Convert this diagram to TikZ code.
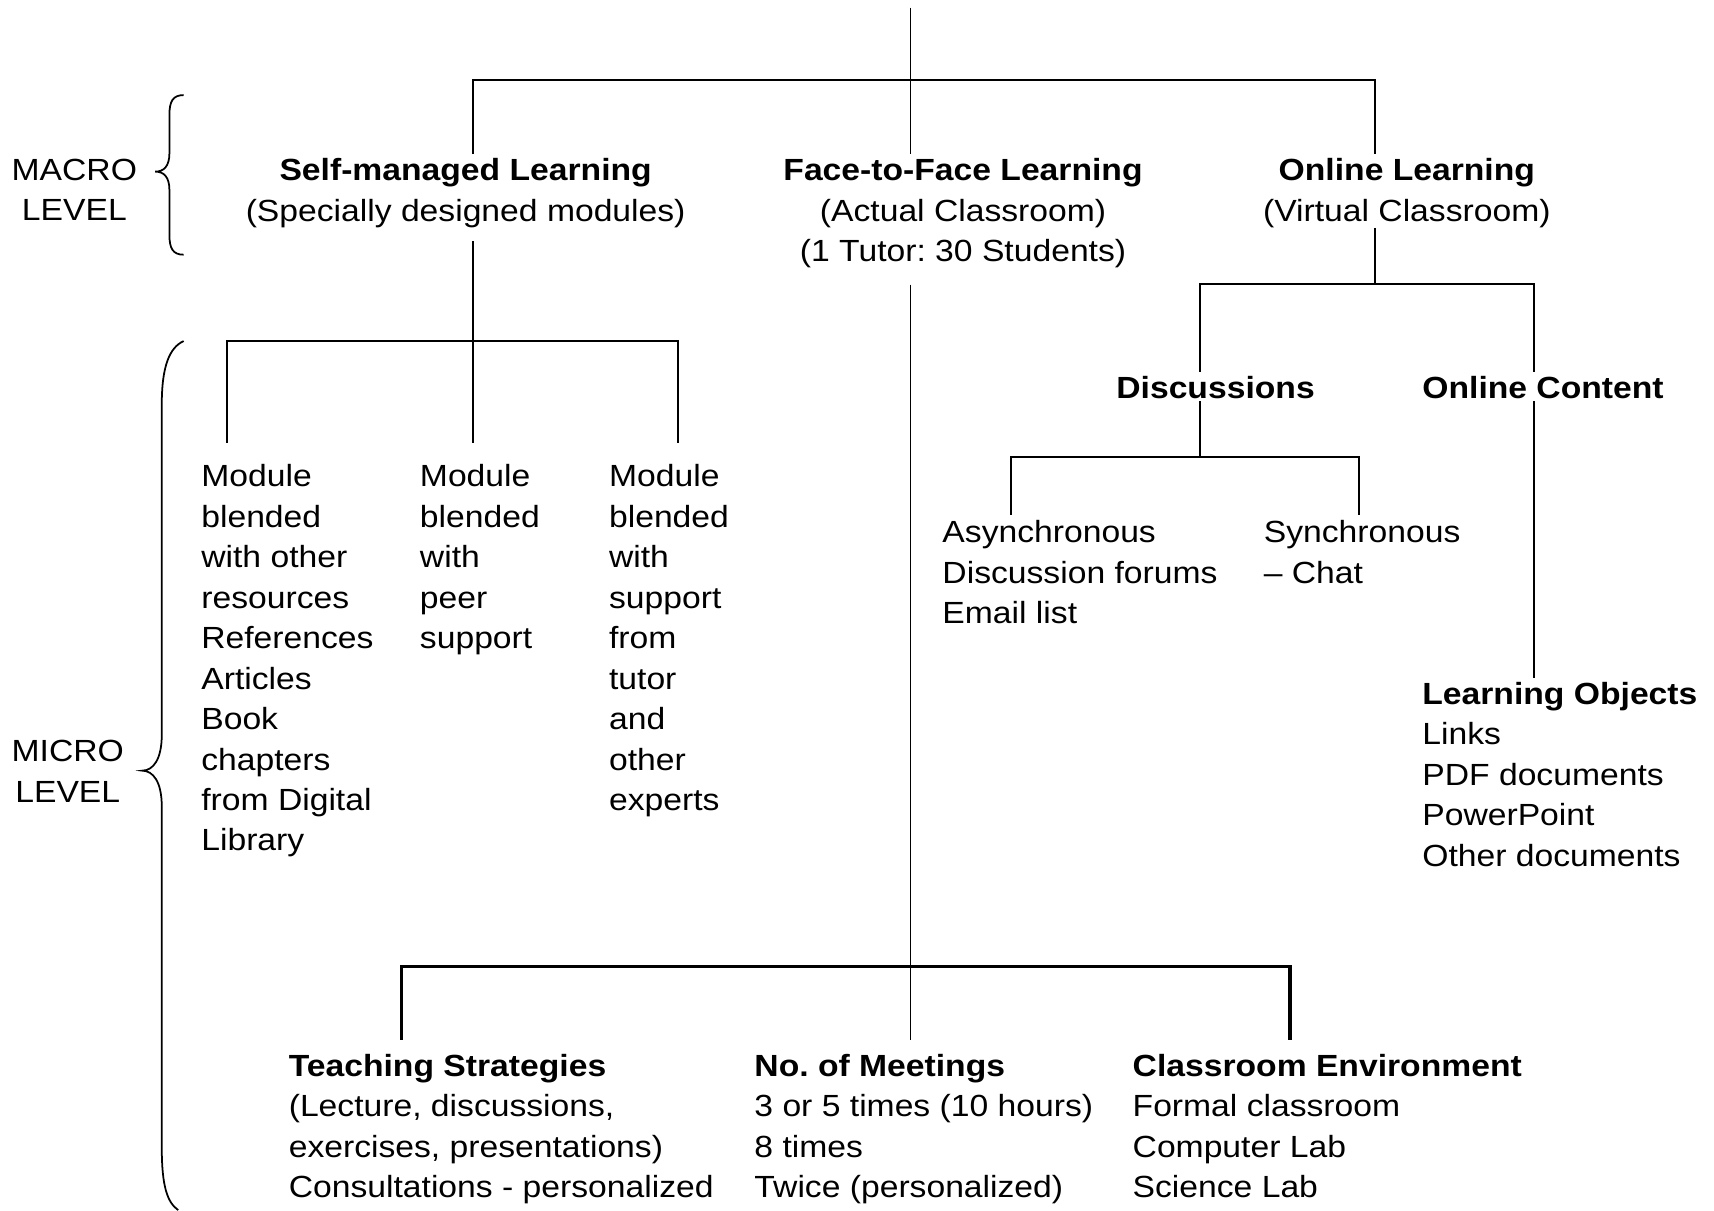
\documentclass[tikz,border=0pt]{standalone}
\usepackage{fontspec}
\setmainfont{Liberation Sans}[FakeStretch=1.1]

\tikzset{
  txt/.style={inner sep=0pt, align=left, anchor=north west, font=\fontsize{28}{37}\selectfont},
  ctr/.style={txt, align=center, anchor=north},
  link/.style={line width=1.6pt},
  fat/.style={line width=3pt}
}

\begin{document}
\frenchspacing
\begin{tikzpicture}[x=1pt,y=-1pt]
\useasboundingbox (0,0) rectangle (1568,1107);

% levels and braces
\node[ctr] (macro) at (68,145) {MACRO\\LEVEL};
\node[ctr] (micro) at (62,677) {MICRO\\LEVEL};
\draw[link] (168,87) .. controls (158,87) and (155,93) .. (155,105) -- (155,140)
  .. controls (155,152) and (150,157) .. (142,157)
  .. controls (150,157) and (155,162) .. (155,174) -- (155,215)
  .. controls (155,227) and (158,233) .. (168,233);
\draw[link] (168,312) .. controls (155,318) and (148,335) .. (148,370) -- (148,672)
  .. controls (148,695) and (140,705) .. (130,705)
  .. controls (140,705) and (148,715) .. (148,738) -- (148,1050)
  .. controls (148,1085) and (153,1100) .. (163,1107);

% macro level
\node[ctr] (selfml) at (426,145) {\textbf{Self-managed Learning}\\(Specially designed modules)};
\node[ctr] (ftf) at (881,145) {\textbf{Face-to-Face Learning}\\(Actual Classroom)\\(1 Tutor: 30 Students)};
\node[ctr] (online) at (1287,145) {\textbf{Online Learning}\\(Virtual Classroom)};

% micro level
\node[txt] (mod1) at (184,425) {Module\\blended\\with other\\resources\\References\\Articles\\Book\\chapters\\from Digital\\Library};
\node[txt] (mod2) at (384,425) {Module\\blended\\with\\peer\\support};
\node[txt] (mod3) at (557,425) {Module\\blended\\with\\support\\from\\tutor\\and\\other\\experts};
\node[ctr] (disc) at (1112,344) {\textbf{Discussions}};
\node[txt] (content) at (1301,344) {\textbf{Online Content}};
\node[txt] (async) at (862,476) {Asynchronous\\Discussion forums\\Email list};
\node[txt] (sync) at (1156,476) {Synchronous\\-- Chat};
\node[txt] (lobj) at (1301,624) {\textbf{Learning Objects}\\Links\\PDF documents\\PowerPoint\\Other documents};
\node[txt] (teach) at (264,964) {\textbf{Teaching Strategies}\\(Lecture, discussions,\\exercises, presentations)\\Consultations - personalized};
\node[txt] (meet) at (690,964) {\textbf{No. of Meetings}\\3 or 5 times (10 hours)\\8 times\\Twice (personalized)};
\node[txt] (env) at (1036,964) {\textbf{Classroom Environment}\\Formal classroom\\Computer Lab\\Science Lab};

% joints
\foreach \n/\x/\y in {top/833/7, b1/833/73, b2/433/312, b3/1258/260, b4/1098/418,
                      b5/833/884, c1/1403/260, m1/208/312, m3/620/312,
                      d1/925/418, d2/1243/418, f1/367/884, f3/1180/884}
    \coordinate (\n) at (\x,\y);

% connectors
\draw[link, shorten >=4pt] (top) -- (top |- ftf.north);
\draw[link, shorten <=4pt, shorten >=4pt] (b2 |- selfml.north) |- (b1) -| (b3 |- online.north);
\draw[link, shorten <=12pt] (b2 |- selfml.south) -- (b2);
\draw[link, shorten <=20pt, shorten >=20pt] (m1 |- mod1.north) |- (b2) -| (m3 |- mod3.north);
\draw[link, shorten >=20pt] (b2) -- (b2 |- mod2.north);
\draw[link] (b3 |- online.south) -- (b3);
\draw[link, shorten <=4pt, shorten >=4pt] (b4 |- disc.north) |- (b3) -| (c1 |- content.north);
\draw[link, shorten <=2pt, shorten >=4pt] (c1 |- content.south) -- (c1 |- lobj.north);
\draw[link, shorten <=2pt] (b4 |- disc.south) -- (b4);
\draw[link, shorten <=5pt, shorten >=5pt] (d1 |- async.north) |- (b4) -| (d2 |- sync.north);
\draw[link, shorten <=15pt, shorten >=13pt] (b5 |- ftf.south) -- (b5 |- meet.north);
\draw[fat, shorten <=13pt, shorten >=13pt] (f1 |- teach.north) |- (b5) -| (f3 |- env.north);
\end{tikzpicture}
\end{document}
